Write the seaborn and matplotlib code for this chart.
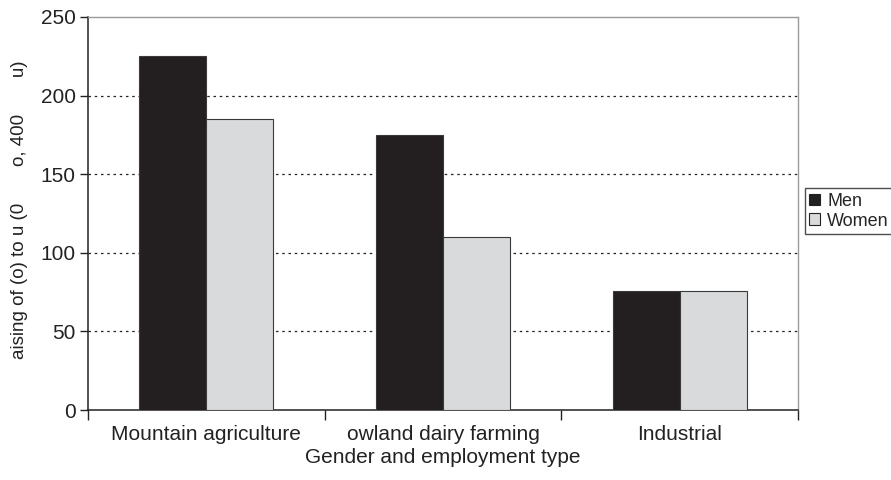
import matplotlib.pyplot as plt
import pandas as pd
import seaborn as sns

CATEGORIES = ["Mountain agriculture", "owland dairy farming", "Industrial"]
SERIES = ["Men", "Women"]
MEN = [225, 175, 76]
WOMEN = [185, 110, 76]
COLORS = {"Men": "#231f20", "Women": "#d9dadc"}

YLABEL = "aising of (o) to u (0       o, 400       u)"
XLABEL = "Gender and employment type"

sns.set_theme(style="white")
plt.rcParams["font.family"] = ["Liberation Sans", "DejaVu Sans"]

df = pd.DataFrame({
    "category": CATEGORIES * 2,
    "gender": ["Men"] * 3 + ["Women"] * 3,
    "value": MEN + WOMEN,
})

fig = plt.figure(figsize=(8.91, 4.8), dpi=100)
ax = fig.add_axes([0.0988, 0.1458, 0.7968, 0.8188])

sns.barplot(data=df, x="category", y="value", hue="gender", order=CATEGORIES,
            hue_order=SERIES, palette=COLORS, width=0.566, saturation=1,
            edgecolor="#3a3a3a", linewidth=0.8, ax=ax, legend=False, zorder=3)

ax.set_xlim(-0.5, 2.5)
ax.set_ylim(0, 250)
ax.set_yticks([0, 50, 100, 150, 200, 250])
for y in [50, 100, 150, 200]:
    ax.axhline(y, color="#222222", linestyle=(0, (2, 3)), linewidth=0.9, zorder=1)

ax.tick_params(axis="x", which="major", length=0, pad=11, labelsize=15, colors="#222222")
ax.set_xticks([-0.5, 0.5, 1.5, 2.5], minor=True)
ax.tick_params(axis="x", which="minor", length=7, width=1, color="#222222", direction="out", bottom=True)
ax.tick_params(axis="y", length=6, width=1, direction="out", left=True, labelsize=15,
               colors="#222222", pad=3)

for side in ["left", "bottom"]:
    ax.spines[side].set_color("#222222")
    ax.spines[side].set_linewidth(1.1)
for side in ["top", "right"]:
    ax.spines[side].set_color("#9a9a9a")
    ax.spines[side].set_linewidth(1.0)

ax.set_xlabel(XLABEL, fontsize=15, color="#222222", labelpad=3)
ax.set_ylabel(YLABEL, fontsize=13.5, color="#222222")
ax.yaxis.set_label_coords(-0.085, 0.51)

handles = [plt.Rectangle((0, 0), 1, 1, facecolor=COLORS[s], edgecolor="#222222", linewidth=0.8)
           for s in SERIES]
fig.legend(handles, SERIES, loc="center left", bbox_to_anchor=(0.903, 0.56),
           frameon=True, fancybox=False, edgecolor="#222222", fontsize=13,
           handlelength=0.6, handleheight=0.6, handletextpad=0.4, borderpad=0.25,
           labelspacing=0.15, borderaxespad=0)

fig.savefig("out.png", dpi=100, facecolor="white")
